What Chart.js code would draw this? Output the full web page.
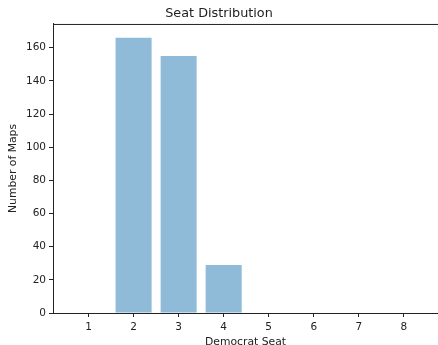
<!DOCTYPE html>
<html>
<head>
<meta charset="utf-8">
<script src="https://cdn.jsdelivr.net/npm/chart.js@4"></script>
<style>
  html, body { margin: 0; padding: 0; background: #fff; overflow: hidden; }
  #wrap { width: 438px; height: 345px; }
</style>
</head>
<body>
<div id="wrap"><canvas id="seatChart" width="438" height="345"></canvas></div>
<script>
// Seat Distribution (histogram-like bar chart)
const seats = [1, 2, 3, 4, 5, 6, 7, 8];
const mapCounts = [0, 166, 155, 29, 0, 0, 0, 0];
const yTicks = [0, 20, 40, 60, 80, 100, 120, 140, 160];

const textColor = '#222222';

// draws the top spine like matplotlib
const topSpine = {
    id: 'topSpine',
    afterDraw(chart) {
        const { ctx, chartArea } = chart;
        ctx.save();
        ctx.strokeStyle = textColor;
        ctx.lineWidth = 1;
        ctx.beginPath();
        ctx.moveTo(chartArea.left, chartArea.top + 0.5);
        ctx.lineTo(chartArea.right, chartArea.top + 0.5);
        ctx.stroke();
        ctx.restore();
    }
};

const seatCtx = document.getElementById('seatChart').getContext('2d');
const seatChart = new Chart(seatCtx, {
    type: 'bar',
    data: {
        datasets: [{
            label: 'Maps',
            data: seats.map((s, i) => ({ x: s, y: mapCounts[i] })),
            backgroundColor: 'rgba(31, 119, 180, 0.5)',
            borderWidth: 0,
            barPercentage: 0.8,
            categoryPercentage: 1.0
        }]
    },
    options: {
        responsive: false,
        animation: false,
        layout: { padding: 0 },
        plugins: {
            legend: { display: false },
            tooltip: { enabled: false },
            title: {
                display: true,
                text: 'Seat Distribution',
                color: textColor,
                font: { family: 'DejaVu Sans', size: 12.8, weight: 'normal' },
                padding: { top: 6, bottom: 2.6 }
            }
        },
        scales: {
            x: {
                type: 'linear',
                offset: false,
                min: 0.21,
                max: 8.76,
                afterFit: (scale) => { scale.height = 32; },
                ticks: {
                    stepSize: 1,
                    includeBounds: false,
                    color: textColor,
                    font: { family: 'DejaVu Sans', size: 10.5 },
                    padding: 4,
                    maxRotation: 0
                },
                grid: { offset: false, drawOnChartArea: false, drawTicks: true, tickLength: 4, color: textColor },
                border: { display: true, color: textColor, width: 1 },
                title: {
                    display: true,
                    text: 'Democrat Seat',
                    color: textColor,
                    font: { family: 'DejaVu Sans', size: 10.8 },
                    padding: { top: 0, bottom: -3.5 }
                }
            },
            y: {
                min: 0,
                max: 174.3,
                afterFit: (scale) => { scale.width = 53; },
                afterBuildTicks: (scale) => { scale.ticks = yTicks.map(v => ({ value: v })); },
                ticks: {
                    color: textColor,
                    font: { family: 'DejaVu Sans', size: 10.5 },
                    padding: 3
                },
                grid: { drawOnChartArea: false, drawTicks: true, tickLength: 4, color: textColor },
                border: { display: true, color: textColor, width: 1 },
                title: {
                    display: true,
                    text: 'Number of Maps',
                    color: textColor,
                    font: { family: 'DejaVu Sans', size: 10.8 },
                    padding: { top: 7, bottom: 0 }
                }
            }
        }
    },
    plugins: [topSpine]
});
</script>
</body>
</html>
